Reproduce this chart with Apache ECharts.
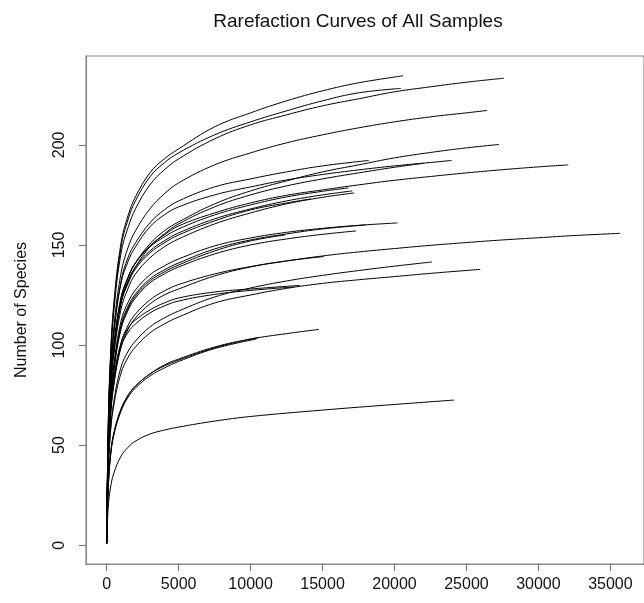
<!DOCTYPE html>
<html>
<head>
<meta charset="utf-8">
<script src="https://cdn.jsdelivr.net/npm/echarts@6/dist/echarts.min.js"></script>
<style>html,body{margin:0;padding:0;background:#fff;}#c{width:644px;height:603px;}</style>
</head>
<body>
<div id="c"></div>
<script>
// tick labels
var xTicks = [0, 5000, 10000, 15000, 20000, 25000, 30000, 35000];
var yTicks = [0, 50, 100, 150, 200];

// rarefaction curves: [sequencing depth, number of species]
var s01 = [[1,1],[100,57],[250,92],[500,121],[1000,151],[1500,165],[2000,174],[3000,186],[4000,193],[5000,198],[7500,209],[10000,216],[12500,222],[15000,227],[17500,231],[20600,234.5]];
var s02 = [[1,1],[100,56],[250,90],[500,119],[1000,149],[1500,163],[2000,172],[3000,184],[4000,191],[5000,196],[7500,205],[10000,211.5],[12500,217],[15000,222],[17500,226],[20440,228.2]];
var s03 = [[1,1],[100,55],[250,89],[500,117],[1000,146],[1500,159],[2000,168],[3000,180],[4000,187.5],[5000,193],[7500,203],[10000,210],[12500,215],[15000,219.5],[17500,223],[20000,226.5],[22500,229],[25000,231.3],[27600,233.3]];
var s04 = [[1,1],[100,52],[250,84],[500,109],[1000,136],[1500,149],[2000,157],[3000,168],[4000,175.5],[5000,181],[7500,190],[10000,196],[12500,201],[15000,205],[17500,208.5],[20000,211.5],[22500,214],[25000,216],[26440,217.2]];
var s05 = [[1,1],[100,50],[250,82],[500,106],[1000,132],[1500,144],[2000,151],[3000,161],[4000,167.5],[5000,172],[7500,179],[10000,183],[12500,186.5],[15000,189.5],[18210,192.2]];
var s06 = [[1,1],[100,47],[250,77],[500,99],[1000,123],[1500,134],[2000,141],[3000,150.5],[4000,157],[5000,161.5],[7500,170.5],[10000,177],[12500,182],[15000,186.5],[17500,190],[20000,193.5],[22500,196.2],[25000,198.5],[27260,200.2]];
var s07 = [[1,1],[100,50],[250,82],[500,106],[1000,131],[1500,142],[2000,149],[3000,159],[4000,165],[5000,169],[7500,175],[10000,179],[12500,182.5],[15000,185.2],[17500,187.5],[20000,189.5],[22500,191.2],[23960,192.2]];
var s08 = [[1,1],[100,46],[250,76],[500,98],[1000,121],[1500,132],[2000,139],[3000,149],[4000,155.5],[5000,160.5],[7500,169],[10000,175],[12500,179.5],[15000,183],[17500,186],[20000,188.8],[22030,190.8]];
var s09 = [[1,1],[100,47],[250,77],[500,99],[1000,123],[1500,134],[2000,141],[3000,149.5],[4000,155],[5000,159.5],[7500,166],[10000,171],[12500,174.8],[15000,177.5],[17500,180],[20000,182.3],[22500,184.2],[25000,186],[27500,187.6],[30000,189],[32075,190]];
var s10 = [[1,1],[100,47],[250,77],[500,98],[1000,122],[1500,132],[2000,139],[3000,147],[4000,152],[5000,156],[7500,163],[10000,168],[12500,172],[15000,175],[17070,177]];
var s11 = [[1,1],[100,48],[250,78],[500,100],[1000,124],[1500,134],[2000,141],[3000,149],[4000,154],[5000,158],[7500,165],[10000,170],[12500,174],[15000,176.8],[16800,178.5]];
var s12 = [[1,1],[100,46],[250,76],[500,97],[1000,121],[1500,131],[2000,138],[3000,146],[4000,151],[5000,155],[7500,162],[10000,167.5],[12500,171],[14190,173]];
var s13 = [[1,1],[100,46],[250,75],[500,95],[1000,118],[1500,128.5],[2000,135.5],[3000,143.5],[4000,149],[5000,153],[7500,160.5],[10000,166],[12500,170.5],[15000,173.8],[17200,176]];
var s14 = [[1,1],[100,43],[250,71],[500,90],[1000,112],[1500,121.5],[2000,127.5],[3000,135],[4000,139.5],[5000,143],[7500,149.5],[10000,153.5],[12500,156.3],[15000,158.3],[17500,159.8],[20210,161]];
var s15 = [[1,1],[100,43],[250,70],[500,89],[1000,110],[1500,119.5],[2000,125.5],[3000,133],[4000,137.5],[5000,141],[7500,148],[10000,152.5],[12500,155.5],[15000,158],[17980,160]];
var s16 = [[1,1],[100,42],[250,68],[500,87],[1000,108],[1500,117.5],[2000,123.5],[3000,131],[4000,135.5],[5000,139],[7500,145.5],[10000,150],[12500,153],[15000,155.3],[17320,157]];
var s17 = [[1,1],[100,42],[250,69],[500,88],[1000,109],[1500,118.5],[2000,124.5],[3000,132],[4000,136.5],[5000,140],[7500,147],[10000,152],[12400,155]];
var s18 = [[1,1],[100,39],[250,64],[500,81],[1000,101],[1500,110],[2000,115.5],[3000,122.5],[4000,127],[5000,130.2],[7500,135.5],[10000,139.2],[12500,142],[15000,144.5],[17500,146.5],[20000,148.2],[22500,149.8],[25000,151.2],[27500,152.5],[30000,153.6],[32500,154.7],[35670,155.8]];
var s19 = [[1,1],[100,38],[250,63],[500,80],[1000,99],[1500,108],[2000,113.5],[3000,120.5],[4000,125],[5000,128],[7500,134.5],[10000,139],[12500,142],[15090,144.2]];
var s20 = [[1,1],[100,35],[250,56],[500,72],[1000,89],[1500,97],[2000,102],[3000,109],[4000,113.5],[5000,117],[7500,124],[10000,128.5],[12500,132],[15000,134.8],[17500,137.2],[20000,139.4],[22600,141.5]];
var s21 = [[1,1],[100,34],[250,55],[500,70],[1000,86],[1500,94],[2000,99],[3000,106],[4000,110.5],[5000,114],[7500,121],[10000,125],[12500,128.3],[15000,130.8],[17500,132.6],[20000,134.2],[22500,135.8],[25960,137.8]];
var s22 = [[1,1],[100,39],[250,64],[500,84],[1000,101],[1500,108.5],[2000,112.5],[3000,117.5],[4000,121],[5000,123.5],[7500,126.5],[10000,128],[13430,129.8]];
var s23 = [[1,1],[100,38],[250,63],[500,82],[1000,99],[1500,106.5],[2000,110.5],[3000,116],[4000,119.5],[5000,122],[7500,125.3],[10000,127.3],[13000,129]];
var s24 = [[1,1],[100,27],[250,44],[500,56],[1000,68],[1500,75],[2000,79.5],[3000,85.5],[4000,90],[5000,93],[7500,99],[10000,103],[12500,105.7],[14750,107.8]];
var s25 = [[1,1],[100,27],[250,44],[500,56],[1000,68],[1500,75],[2000,79.5],[3000,85.5],[4000,89.5],[5000,92.5],[7500,98.6],[10000,103],[10550,103.7]];
var s26 = [[1,1],[100,26],[250,43],[500,55],[1000,67],[1500,74],[2000,78.5],[3000,84.5],[4000,88.5],[5000,91.8],[7500,98.2],[10400,103]];
var s27 = [[1,1],[100,18],[250,28],[500,36],[1000,44.5],[1500,49],[2000,52],[3000,55.5],[4000,57.5],[5000,59],[7500,62],[10000,64.3],[15000,67.5],[20000,70.3],[24140,72.5]];

var samples = [s01,s02,s03,s04,s05,s06,s07,s08,s09,s10,s11,s12,s13,s14,s15,s16,s17,s18,s19,s20,s21,s22,s23,s24,s25,s26,s27];

var FONT = "'Liberation Sans', Arial, sans-serif";
var chart = echarts.init(document.getElementById('c'), null, {renderer: 'canvas'});

var series = samples.map(function (d, i) {
  return {
    type: 'line',
    name: 'S' + (i + 1),
    data: d,
    showSymbol: false,
    smooth: 0.4,
    silent: true,
    clip: true,
    lineStyle: {color: '#000', width: 1}
  };
});

function plain(v) { return String(v); }

chart.setOption({
  animation: false,
  backgroundColor: '#fff',
  title: {
    text: 'Rarefaction Curves of All Samples',
    left: 353,
    top: 7,
    textAlign: 'center',
    textStyle: {fontFamily: FONT, fontSize: 19, fontWeight: 'normal', color: '#111'}
  },
  grid: {
    left: 86, right: -10, top: 56, bottom: 39,
    show: true, borderColor: '#8a8a8a', borderWidth: 1.2, backgroundColor: 'transparent'
  },
  xAxis: {
    type: 'value',
    min: -1436, max: 37336,
    axisLine: {show: true, onZero: false, lineStyle: {color: '#8a8a8a', width: 1.2}},
    splitLine: {show: false},
    axisTick: {show: true, customValues: xTicks, length: 7, lineStyle: {color: '#7a7a7a', width: 1.2}},
    axisLabel: {customValues: xTicks, formatter: plain, fontFamily: FONT, fontSize: 16, color: '#111', margin: 13}
  },
  yAxis: {
    type: 'value',
    min: -9.4, max: 244.4,
    name: 'Number of Species',
    nameLocation: 'middle',
    nameGap: 56,
    nameRotate: 90,
    nameTextStyle: {fontFamily: FONT, fontSize: 16, color: '#111'},
    axisLine: {show: true, onZero: false, lineStyle: {color: '#8a8a8a', width: 1.2}},
    splitLine: {show: false},
    axisTick: {show: true, customValues: yTicks, length: 7, lineStyle: {color: '#7a7a7a', width: 1.2}},
    axisLabel: {customValues: yTicks, formatter: plain, rotate: 90, fontFamily: FONT, fontSize: 16, color: '#111', margin: 18}
  },
  series: series
});
</script>
</body>
</html>
